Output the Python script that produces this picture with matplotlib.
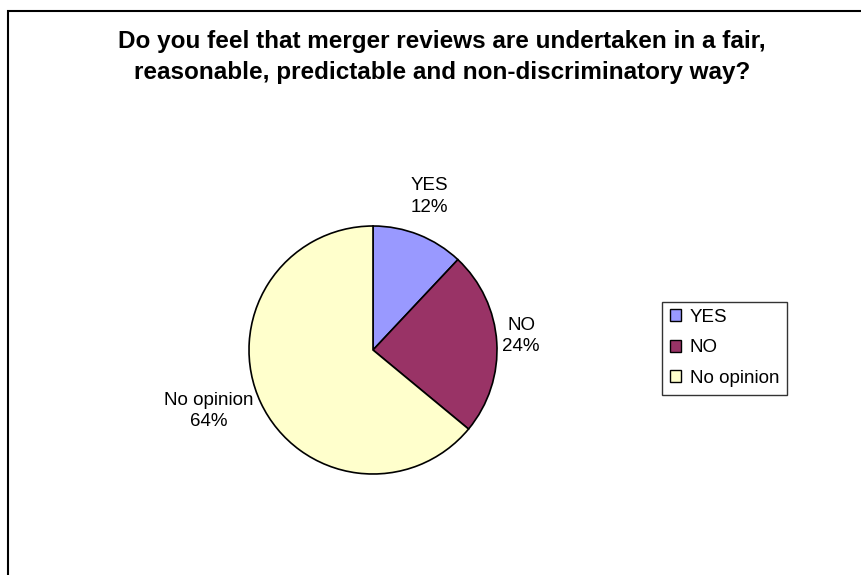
import numpy as np
import matplotlib
matplotlib.use("Agg")
import matplotlib.pyplot as plt
from matplotlib.patches import Rectangle

categories = ["YES", "NO", "No opinion"]
values = [12, 24, 64]
colors = ["#9999FF", "#993366", "#FFFFCC"]
title = "Do you feel that merger reviews are undertaken in a fair,\nreasonable, predictable and non-discriminatory way?"

W, H = 861, 575
fig = plt.figure(figsize=(W / 100, H / 100), dpi=100)
plt.rcParams['font.family'] = ['Liberation Sans', 'DejaVu Sans']

# outer frame (only top and left visible)
fig.patches.append(Rectangle((8 / W, -0.2), 1.2, 1 - 11 / H + 0.2, transform=fig.transFigure,
                             fill=False, edgecolor="#000000", linewidth=1.5))

fig.text(442 / W, 1 - 57 / H, title, ha="center", va="center", fontsize=17.5,
         fontweight="bold", linespacing=1.45)

cx, cy, r = 373, 350, 124
ax = fig.add_axes([(cx - r) / W, (H - cy - r) / H, 2 * r / W, 2 * r / H])
wedges, _ = ax.pie(values, colors=colors, startangle=90, counterclock=False,
                   radius=1.0, wedgeprops=dict(edgecolor="black", linewidth=1.2))
ax.set_xlim(-1, 1)
ax.set_ylim(-1, 1)
ax.set_aspect("equal")
ax.axis("off")

# label placement: radial distance and angular nudge (degrees)
dists = [1.32, 1.20, 1.41]
nudges = [1.5, 1.8, -4.8]
for w, cat, v, d, n in zip(wedges, categories, values, dists, nudges):
    ang = np.deg2rad((w.theta1 + w.theta2) / 2 + n)
    ax.text(d * np.cos(ang), d * np.sin(ang), f"{cat}\n{v}%", ha="center", va="center",
            fontsize=13.5, linespacing=1.35, clip_on=False)

leg = fig.legend(wedges, categories, loc="center", bbox_to_anchor=(724.5 / W, 1 - 348 / H),
                 frameon=True, fancybox=False, edgecolor="black", fontsize=13.5,
                 handlelength=0.6, handleheight=0.6, handletextpad=0.45,
                 labelspacing=0.72, borderpad=0.4, borderaxespad=0)
leg.get_frame().set_linewidth(1.0)
for h in leg.legend_handles:
    h.set_linewidth(1.0)

fig.savefig("out.png", dpi=100)
